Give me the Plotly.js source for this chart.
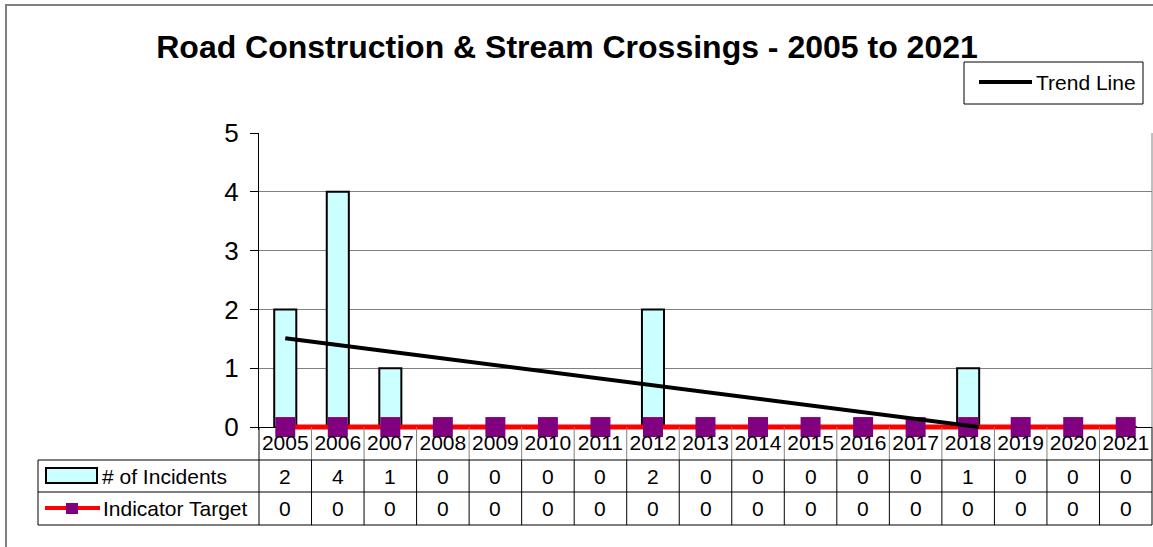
<!DOCTYPE html>
<html>
<head>
<meta charset="utf-8">
<script src="https://cdn.plot.ly/plotly-3.0.1.min.js"></script>
<style>html,body{margin:0;padding:0;background:#fff;}#chart{width:1153px;height:547px;}</style>
</head>
<body>
<div id="chart"></div>
<script>
// ---- data ----
const years = [2005, 2006, 2007, 2008, 2009, 2010, 2011, 2012, 2013, 2014, 2015, 2016, 2017, 2018, 2019, 2020, 2021];
const yearLabels = ['2005','2006','2007','2008','2009','2010','2011','2012','2013','2014','2015','2016','2017','2018','2019','2020','2021'];
const incidents = [2, 4, 1, 0, 0, 0, 0, 2, 0, 0, 0, 0, 0, 1, 0, 0, 0];
const target = [0, 0, 0, 0, 0, 0, 0, 0, 0, 0, 0, 0, 0, 0, 0, 0, 0];
const trendX = [2005, 2018.2];
const trendY = [1.51, 0];
const seriesNames = ['# of Incidents', 'Indicator Target', 'Trend Line'];
const titleText = 'Road Construction &amp; Stream Crossings - 2005 to 2021';

// ---- layout helpers (pixel -> paper) ----
const W = 1153, H = 547, L = 259, R = 1, T = 133, B = 117;
const PW = W - L - R, PH = H - T - B;
const px = X => (X - L) / PW;
const py = Y => (T + PH - Y) / PH;
const FONT = 'Liberation Sans, Arial, sans-serif';
const Y0 = 427; // pixel of value 0

const traces = [
  {
    type: 'bar', x: years, y: incidents, name: seriesNames[0], width: 0.42,
    marker: {color: '#CCFFFF', line: {color: '#000000', width: 2}},
    showlegend: false, hoverinfo: 'x+y'
  },
  {
    type: 'scatter', mode: 'lines+markers', x: years, y: target, name: seriesNames[1],
    line: {color: '#FF0000', width: 5},
    marker: {symbol: 'square', size: 20, color: '#800080', line: {width: 0}},
    cliponaxis: false, showlegend: false
  },
  {
    type: 'scatter', mode: 'lines', x: trendX, y: trendY, name: seriesNames[2],
    line: {color: '#000000', width: 4}, showlegend: false
  }
];

const shapes = [];
const annotations = [];
const blk = {color: '#000000', width: 1};
const gry = {color: '#808080', width: 1};

// outer chart frame
shapes.push({type: 'rect', xref: 'paper', yref: 'paper', x0: px(6), x1: px(1200), y0: py(600), y1: py(5), line: {color: '#808080', width: 2}, layer: 'below'});
// right border of plot area
shapes.push({type: 'line', xref: 'paper', yref: 'paper', x0: 1, x1: 1, y0: py(Y0), y1: 1, line: gry});

// year row separators
for (let i = 1; i < years.length; i++) {
  const b = years[i] - 0.5;
  shapes.push({type: 'line', xref: 'x', yref: 'paper', x0: b, x1: b, y0: py(Y0), y1: py(460), line: gry});
  shapes.push({type: 'line', xref: 'x', yref: 'paper', x0: b, x1: b, y0: py(460), y1: py(525), line: blk});
}
// left / right edges of data columns
shapes.push({type: 'line', xref: 'paper', yref: 'paper', x0: 0, x1: 0, y0: py(Y0), y1: py(525), line: blk});
shapes.push({type: 'line', xref: 'paper', yref: 'paper', x0: 1, x1: 1, y0: py(Y0), y1: py(525), line: blk});
// table horizontal lines
[460, 492, 525].forEach(Y => shapes.push({type: 'line', xref: 'paper', yref: 'paper', x0: px(38), x1: 1, y0: py(Y), y1: py(Y), line: blk}));
shapes.push({type: 'line', xref: 'paper', yref: 'paper', x0: px(38), x1: px(38), y0: py(460), y1: py(525), line: blk});

// table values
years.forEach((yr, i) => {
  annotations.push({xref: 'x', yref: 'paper', x: yr, y: py(476), text: String(incidents[i]), showarrow: false, xanchor: 'center', yanchor: 'middle', font: {family: FONT, size: 21, color: '#000'}});
  annotations.push({xref: 'x', yref: 'paper', x: yr, y: py(508), text: String(target[i]), showarrow: false, xanchor: 'center', yanchor: 'middle', font: {family: FONT, size: 21, color: '#000'}});
});

// table legend keys
shapes.push({type: 'rect', xref: 'paper', yref: 'paper', x0: px(46), x1: px(97), y0: py(483), y1: py(468), fillcolor: '#CCFFFF', line: {color: '#000', width: 2}});
annotations.push({xref: 'paper', yref: 'paper', x: px(100), y: py(476), text: seriesNames[0], showarrow: false, xanchor: 'left', yanchor: 'middle', font: {family: FONT, size: 21, color: '#000'}});
shapes.push({type: 'line', xref: 'paper', yref: 'paper', x0: px(45), x1: px(100), y0: py(508), y1: py(508), line: {color: '#FF0000', width: 4}});
shapes.push({type: 'rect', xref: 'paper', yref: 'paper', x0: px(66), x1: px(78), y0: py(514), y1: py(503), fillcolor: '#800080', line: {width: 0}});
annotations.push({xref: 'paper', yref: 'paper', x: px(101), y: py(508), text: seriesNames[1], showarrow: false, xanchor: 'left', yanchor: 'middle', font: {family: FONT, size: 21, color: '#000'}});

// trend legend box
shapes.push({type: 'rect', xref: 'paper', yref: 'paper', x0: px(964), x1: px(1143), y0: py(104), y1: py(62), fillcolor: '#FFFFFF', line: {color: '#000', width: 1}});
shapes.push({type: 'line', xref: 'paper', yref: 'paper', x0: px(979), x1: px(1032), y0: py(82), y1: py(82), line: {color: '#000', width: 4}});
annotations.push({xref: 'paper', yref: 'paper', x: px(1034), y: py(82), text: seriesNames[2], showarrow: false, xanchor: 'left', yanchor: 'middle', font: {family: FONT, size: 21, color: '#000'}});

const layout = {
  width: W, height: H,
  margin: {l: L, r: R, t: T, b: B, pad: 0},
  paper_bgcolor: '#FFFFFF', plot_bgcolor: '#FFFFFF',
  font: {family: FONT, color: '#000'},
  title: {text: titleText, x: 567 / W, xref: 'container', xanchor: 'center', y: 1 - 47 / H, yref: 'container', yanchor: 'middle',
          font: {family: FONT, size: 32, color: '#000', weight: 'bold'}},
  showlegend: false,
  bargap: 0,
  xaxis: {
    type: 'linear', range: [2004.5, 2021.5], tickvals: years, ticktext: yearLabels,
    showgrid: false, zeroline: false, showline: false,
    ticks: '', ticklabelstandoff: -2, tickfont: {family: FONT, size: 21, color: '#000'}, fixedrange: true
  },
  yaxis: {
    range: [-0.05, 5], tickvals: [0, 1, 2, 3, 4, 5], showgrid: true, gridcolor: '#808080', gridwidth: 1,
    zeroline: true, zerolinecolor: '#000', zerolinewidth: 1, showline: true, linecolor: '#000', linewidth: 1,
    ticks: 'outside', ticklen: 8, tickcolor: '#000', ticklabelstandoff: 6,
    tickfont: {family: FONT, size: 26, color: '#000'}, fixedrange: true
  },
  shapes: shapes,
  annotations: annotations
};

Plotly.newPlot('chart', traces, layout, {displayModeBar: false, staticPlot: true});
</script>
</body>
</html>
